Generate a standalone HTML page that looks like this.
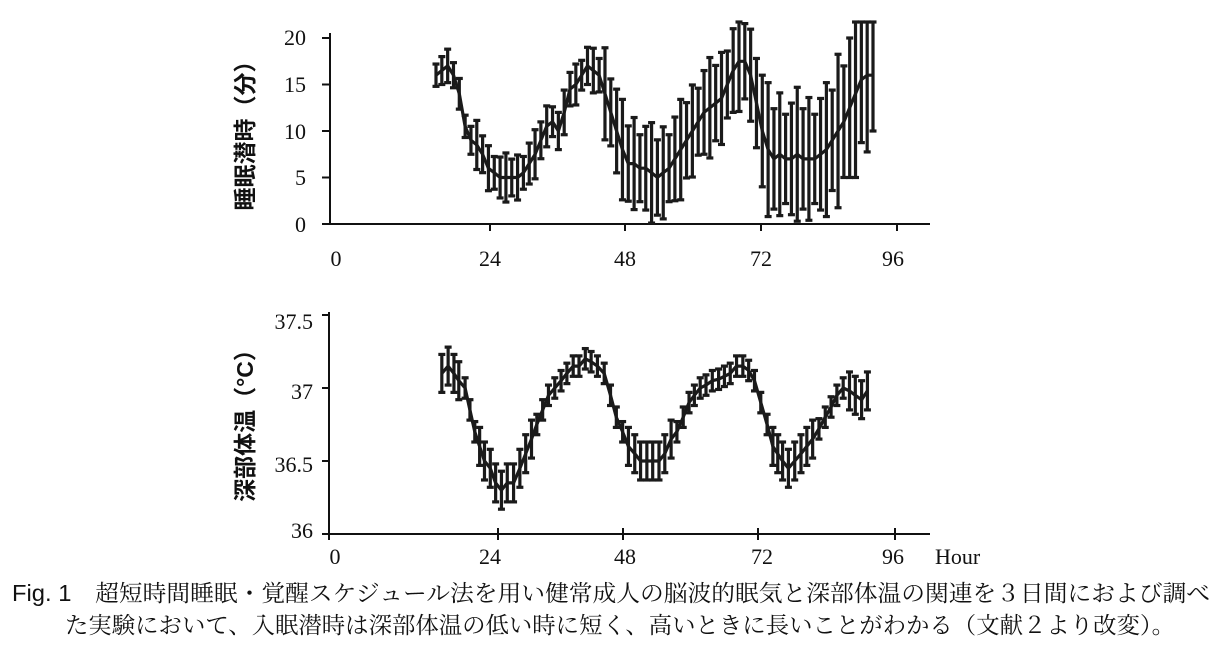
<!DOCTYPE html>
<html><head><meta charset="utf-8"><style>
body{margin:0;background:#fff;width:1222px;height:651px;overflow:hidden}
svg{position:absolute;left:0;top:0}
.t{font-family:"Liberation Serif",serif;font-size:22px;fill:#111}
.j{font-family:"Liberation Sans","Noto Sans CJK JP",sans-serif;font-size:23px;fill:#111;font-weight:bold}
.c{font-family:"Liberation Serif","Noto Serif CJK JP",serif;font-size:23px;fill:#111}
</style></head><body>
<svg id="s" width="1222" height="651" xmlns="http://www.w3.org/2000/svg">
<g stroke="#111" stroke-width="2" fill="none">
<line x1="330" y1="33" x2="330" y2="225"/><line x1="322" y1="224" x2="930" y2="224"/>
<line x1="490" y1="224" x2="490" y2="231"/><line x1="625" y1="224" x2="625" y2="231"/><line x1="761" y1="224" x2="761" y2="231"/><line x1="897" y1="224" x2="897" y2="231"/>
<line x1="322" y1="38" x2="330" y2="38"/><line x1="322" y1="84.5" x2="330" y2="84.5"/><line x1="322" y1="131" x2="330" y2="131"/><line x1="322" y1="177.5" x2="330" y2="177.5"/>
<line x1="329" y1="312" x2="329" y2="540"/><line x1="322" y1="534" x2="930" y2="534"/>
<line x1="498" y1="528" x2="498" y2="540"/><line x1="623" y1="528" x2="623" y2="540"/><line x1="758" y1="528" x2="758" y2="540"/><line x1="895" y1="528" x2="895" y2="540"/>
<line x1="322" y1="315" x2="329" y2="315"/><line x1="322" y1="388" x2="329" y2="388"/><line x1="322" y1="461" x2="329" y2="461"/>
</g>
<g class="t" text-anchor="end">
<text x="306" y="45">20</text><text x="306" y="92">15</text><text x="306" y="139">10</text><text x="306" y="185">5</text><text x="306" y="232">0</text>
<text x="313" y="329">37.5</text><text x="313" y="399">37</text><text x="313" y="472">36.5</text><text x="313" y="538">36</text>
</g>
<g class="t" text-anchor="middle">
<text x="336" y="266">0</text><text x="490" y="266">24</text><text x="625" y="266">48</text><text x="761" y="266">72</text><text x="893" y="266">96</text>
<text x="335" y="564">0</text><text x="490" y="564">24</text><text x="625" y="564">48</text><text x="762" y="564">72</text><text x="893" y="564">96</text>
</g>
<text class="t" x="935" y="564">Hour</text>
<text class="j" transform="translate(253,130) rotate(-90)" text-anchor="middle">睡眠潜時（分）</text>
<text class="j" transform="translate(253,420) rotate(-90)" text-anchor="middle">深部体温（°C）</text>
<text class="c" x="12" y="601" textLength="1198" lengthAdjust="spacingAndGlyphs"><tspan font-family="Liberation Sans,sans-serif">Fig. 1</tspan>　超短時間睡眠・覚醒スケジュール法を用い健常成人の脳波的眠気と深部体温の関連を３日間におよび調べ</text>
<text class="c" x="65" y="633" textLength="1110" lengthAdjust="spacingAndGlyphs">た実験において、入眠潜時は深部体温の低い時に短く、高いときに長いことがわかる（文献２より改変）。</text>
<g id="d" stroke="#1a1a1a" stroke-width="3.2" fill="none"></g>
</svg>
<script>
var g=document.getElementById('d'),o='';
var tp=[[15,16],[16,16.5],[17,17],[18,16],[19,14],[20,10.5],[21,9],[22,8.5],[23,7.5],[24,6],[25,5.5],[26,5],[27,5],[28,5],[29,5],[30,5.5],[31,6.5],[32,7.5],[33,9],[34,10.5],[35,11],[36,10],[37,12],[38,14.5],[39,15],[40,16],[41,17],[42,16.5],[43,16],[44,14],[45,12],[46,10],[47,8],[48,6.5],[49,6.5],[50,6],[51,6],[52,5.5],[53,5],[54,5.5],[55,6],[56,7],[57,8],[58,9],[59,10],[60,11],[61,12],[62,12.5],[63,13],[64,13.5],[65,15],[66,16.5],[67,17.5],[68,17.5],[69,16],[70,13],[71,10],[72,8],[73,7],[74,7.5],[75,7],[76,7],[77,7.5],[78,7],[79,7],[80,7],[81,7.5],[82,8],[83,9],[84,10],[85,11],[86,12.5],[87,14],[88,15.5],[89,16],[90,16]];
function er(h){if(h<22)return 1.5;if(h<34)return 2.2;if(h<44)return 2;if(h<70)return 4.5;if(h<84)return 6;return 7.5;}
var pts=[];
function bar(x,y1,y2){return '<line x1="'+x+'" y1="'+y1+'" x2="'+x+'" y2="'+y2+'"/><line x1="'+(x-3.5)+'" y1="'+y1+'" x2="'+(x+3.5)+'" y2="'+y1+'"/><line x1="'+(x-3.5)+'" y1="'+y2+'" x2="'+(x+3.5)+'" y2="'+y2+'"/>';}
tp.forEach(function(p,i){var x=436+(p[0]-15)*(873-436)/75,y=224-9.3*p[1],e=er(p[0])*9.3*(0.8+0.4*((i*7)%5)/4);
pts.push(x.toFixed(1)+','+y.toFixed(1));
o+=bar(x,Math.max(y-e,22),Math.min(y+e,224));});
o+='<polyline points="'+pts.join(' ')+'"/>';
var b=[[437,37.1],[450,37.15],[462,37.1],[472,37.05],[485,37.0],[495,36.85],[505,36.7],[515,36.6],[525,36.5],[537,36.45],[548,36.35],[560,36.3],[572,36.35],[585,36.35],[598,36.45],[610,36.55],[622,36.65],[633,36.75],[645,36.85],[657,36.95],[670,37.0],[683,37.05],[695,37.1],[708,37.15],[720,37.15],[733,37.2],[745,37.18],[758,37.15],[772,37.1],[785,36.95],[797,36.8],[810,36.7],[822,36.6],[835,36.55],[847,36.5],[860,36.5],[872,36.5],[885,36.5],[897,36.55],[910,36.65],[922,36.7],[935,36.8],[947,36.9],[958,36.95],[970,37.0],[982,37.02],[995,37.05],[1008,37.06],[1020,37.08],[1032,37.1],[1045,37.15],[1058,37.15],[1070,37.12],[1082,37.05],[1095,36.9],[1108,36.75],[1120,36.6],[1130,36.55],[1140,36.5],[1152,36.45],[1165,36.5],[1178,36.55],[1190,36.6],[1202,36.65],[1215,36.72],[1228,36.8],[1240,36.87],[1252,36.95],[1265,37.0],[1278,36.98],[1290,36.95],[1303,36.92],[1315,36.98]];
pts=[];
b.forEach(function(p){var x=230+p[0]/2.063,y=534-(p[1]-36)*146,v=p[1];var e=(v<36.7||p[0]<480||p[0]>1265)?0.13:0.07;e*=146;
pts.push(x.toFixed(1)+','+y.toFixed(1));
o+=bar(x,y-e,y+e);});
o+='<polyline points="'+pts.join(' ')+'"/>';
g.innerHTML=o;
</script>
</body></html>
